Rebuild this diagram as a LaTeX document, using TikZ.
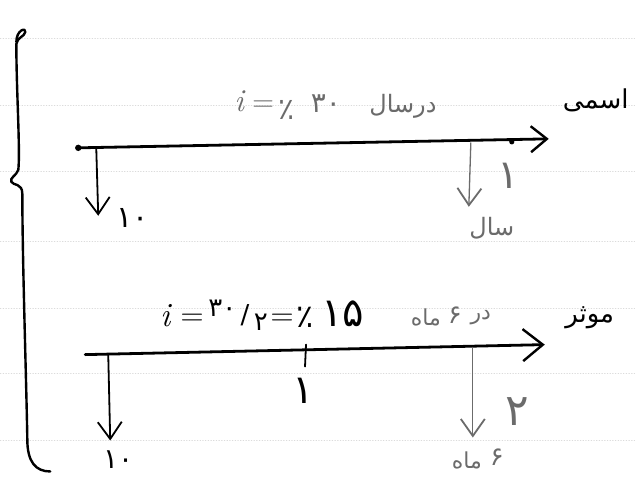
\documentclass[tikz,border=0pt]{standalone}
\usepackage{fontspec}
\newfontfamily\arabicfont[Script=Arabic]{DejaVu Sans}
\TeXXeTstate=1
\usetikzlibrary{arrows.meta}
\definecolor{pencil}{gray}{0.42}
\definecolor{ruling}{gray}{0.86}

\begin{document}
\begin{tikzpicture}[x=1pt, y=-1pt, line cap=round, line join=round,
  fa/.style={anchor=center, inner sep=0pt, font=\arabicfont\fontsize{#1}{#1}\selectfont},
  fa/.default=22,
  la/.style={anchor=center, inner sep=0pt, font=\fontsize{#1}{#1}\selectfont},
  la/.default=30,
  axis/.style={line width=2.8pt},
  drop/.style={line width=1.8pt, -{Straight Barb[length=17pt,width=24pt,line width=1.8pt]}},
  pdrop/.style={drop, pencil, line width=1.3pt}]
  % ── 纸上的横格（很淡的点线）──
  \foreach \y in {38,105,172,242,309,374,441}
    \draw[ruling, dotted, line width=0.7pt] (0,\y) -- (635,\y);

  % ── 左边的大括号 ──
  \draw[line width=2.4pt] (16,42) .. controls (16,30) and (26,27) .. (25,32)
    .. controls (24,37) and (17,37) .. (16,44)
    .. controls (16,90) and (20,150) .. (18,170) .. controls (16,176) and (9,178) .. (11,182)
    .. controls (13,186) and (22,183) .. (22,194) .. controls (22,260) and (26,380) .. (27,440)
    .. controls (27,462) and (35,472) .. (50,472);

  % ── 上轴：اسمی ──
  \coordinate (a0) at (78,148);
  \coordinate (a1) at (549,139);
  \coordinate (aDot) at (512,142);
  \draw[axis, -{Straight Barb[length=16pt,width=26pt,line width=2.4pt]}] (a0) -- (a1);
  \fill (a0) circle (3.2);
  \fill (aDot) circle (2.6);
  \coordinate (p0) at (96,148);  \coordinate (p0e) at (98,216);
  \coordinate (p1) at (471,143); \coordinate (p1e) at (469,207);
  \draw[drop] (p0) -- (p0e);
  \draw[pdrop] (p1) -- (p1e);

  \node[la=32, pencil] (iA) at (239,101) {\itshape i};
  \node[la=30, pencil] (eqA) at (263,106) {=};
  \node[fa=30, pencil] (pcA) at (287,110) {٪};
  \node[fa=28, pencil] (numA) at (326,104) {۳۰};
  \node[fa=24, pencil] (perA) at (403,106) {\beginR درسال\endR};
  \node[fa=26] (nomLbl) at (596,100) {\beginR اسمی\endR};
  \node[fa=30] (cA0) at (132,218) {۱۰};
  \node[fa=40, pencil] (tA1) at (508,176) {۱};
  \node[fa=24, pencil] (unitA) at (492,228) {\beginR سال\endR};

  % ── 下轴：موثر ──
  \coordinate (b0) at (85,355);
  \coordinate (b1) at (545,345);
  \draw[axis, -{Straight Barb[length=20pt,width=32pt,line width=2.4pt]}] (b0) -- (b1);
  \coordinate (t1a) at (306,345); \coordinate (t1b) at (305,367);
  \draw[line width=1.8pt] (t1a) -- (t1b);
  \coordinate (q0) at (108,355); \coordinate (q0e) at (110,441);
  \coordinate (q1) at (473,348); \coordinate (q1e) at (473,438);
  \draw[drop] (q0) -- (q0e);
  \draw[pdrop] (q1) -- (q1e);

  \node[la=34] (iB) at (165,316) {\itshape i};
  \node[la=32] (eqB1) at (192,320) {=};
  \node[fa=26] (frB) at (238,316) {\raisebox{7pt}{۳۰}\,/\,\raisebox{-7pt}{۲}};
  \node[la=32] (eqB2) at (282,320) {=};
  \node[fa=32] (pcB) at (305,318) {٪};
  \node[fa=40] (numB) at (343,314) {۱۵};
  \node[fa=22, pencil] (perB3) at (426,318) {\beginR ماه\endR};
  \node[fa=26, pencil] (perB2) at (455,316) {۶};
  \node[fa=22, pencil] (perB1) at (481,318) {\beginR در\endR};
  \node[fa=26] (effLbl) at (590,318) {\beginR موثر\endR};
  \node[fa=40] (tB1) at (303,391) {۱};
  \node[fa=44, pencil] (tB2) at (518,412) {۲};
  \node[fa=22, pencil] (unitB2) at (467,461) {\beginR ماه\endR};
  \node[fa=26, pencil] (unitB1) at (497,458) {۶};
  \node[fa=28] (cB0) at (118,460) {۱۰};

  \path[use as bounding box] (0,0) rectangle (635,479);
\end{tikzpicture}
\end{document}
